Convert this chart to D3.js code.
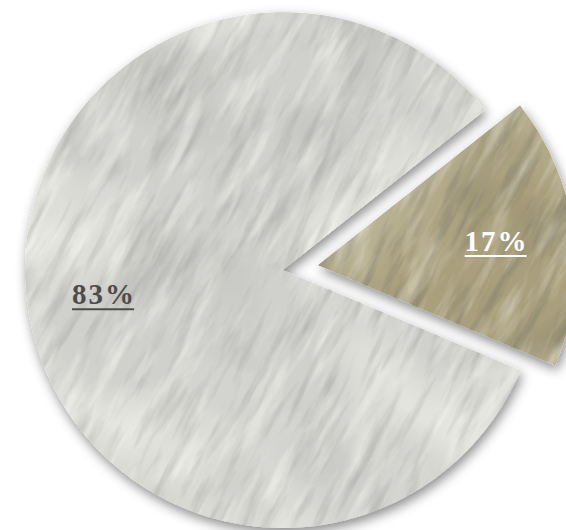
<!DOCTYPE html>
<html><head><meta charset="utf-8">
<script src="https://cdn.jsdelivr.net/npm/d3@7"></script>
<style>html,body{margin:0;padding:0;background:#fff;}svg{display:block;}</style>
</head><body>
<svg id="chart" width="566" height="530"></svg>
<script>
const categories = ["Silver", "Bronze"];
const values = [83, 17];
const labels = ["83%", "17%"];

const W = 566, H = 530;
const cx = 283, cy = 270, R = 258, explode = 35;
const startDeg = 112.85;

const svg = d3.select("#chart");
const defs = svg.append("defs");

const sh = defs.append("filter").attr("id", "shadow").attr("x", "-20%").attr("y", "-20%").attr("width", "140%").attr("height", "140%");
sh.append("feDropShadow").attr("dx", 2).attr("dy", 5).attr("stdDeviation", 6).attr("flood-color", "#000").attr("flood-opacity", 0.45);

function noise(id, freq, seed, oct, rgb, a, b) {
  const f = defs.append("filter").attr("id", id).attr("x", 0).attr("y", 0).attr("width", 1).attr("height", 1)
    .attr("filterUnits", "objectBoundingBox").attr("color-interpolation-filters", "sRGB");
  f.append("feTurbulence").attr("type", "fractalNoise").attr("baseFrequency", freq).attr("numOctaves", oct).attr("seed", seed);
  f.append("feColorMatrix").attr("type", "matrix")
    .attr("values", `0 0 0 0 ${rgb[0]}  0 0 0 0 ${rgb[1]}  0 0 0 0 ${rgb[2]}  ${a} 0 0 0 ${b}`);
}
noise("hiBig", "0.007 0.005", 7, 2, [1, 1, 0.97], 2.4, -1.1);
noise("hiStreak", "0.012 0.07", 3, 4, [1, 1, 0.97], 2.8, -1.35);
noise("loStreak", "0.014 0.09", 11, 4, [0.4, 0.4, 0.38], 2.6, -1.3);
noise("loBig", "0.009 0.009", 19, 2, [0.3, 0.3, 0.28], 2.2, -1.1);

const colors = { Silver: "#d0d0cd", Bronze: "#a99f7c" };
const textColors = { Silver: "#4d4c4a", Bronze: "#ffffff" };
const texOpacity = {
  Silver: [0.75, 0.18, 0.45, 0.22],
  Bronze: [0.4, 0.5, 0.35, 0.35]
};
const texFilters = ["hiBig", "loBig", "hiStreak", "loStreak"];

const pie = d3.pie().sort(null).value(d => d)
  .startAngle(startDeg * Math.PI / 180)
  .endAngle(startDeg * Math.PI / 180 + 2 * Math.PI);
const arcs = pie(values);
const arc = d3.arc().innerRadius(0).outerRadius(R);
const labelArc = d3.arc().innerRadius(R * 0.7).outerRadius(R * 0.7);

const root = svg.append("g").attr("transform", `translate(${cx},${cy})`);

arcs.forEach((a, i) => {
  const mid = (a.startAngle + a.endAngle) / 2;
  const off = i === 1 ? explode : 0;
  const dx = Math.sin(mid) * off, dy = -Math.cos(mid) * off;
  const cat = categories[i];
  defs.append("clipPath").attr("id", "clip" + i).append("path").attr("d", arc(a));
  const g = root.append("g").attr("transform", `translate(${dx},${dy})`);
  const sg = g.append("g").attr("filter", "url(#shadow)");
  const cg = sg.append("g").attr("clip-path", `url(#clip${i})`);
  cg.append("path").attr("d", arc(a)).attr("fill", colors[cat]);
  const tex = cg.append("g").attr("transform", "rotate(-62)");
  texFilters.forEach((fid, k) => {
    tex.append("rect").attr("x", -R * 1.5).attr("y", -R * 1.5).attr("width", R * 3).attr("height", R * 3)
      .attr("filter", `url(#${fid})`).attr("opacity", texOpacity[cat][k]);
  });

  const [lx, ly] = labelArc.centroid(a);
  const t = g.append("text").attr("x", lx).attr("y", ly + 10)
    .attr("text-anchor", "middle")
    .attr("font-family", "'Liberation Serif', 'Times New Roman', serif")
    .attr("font-weight", "bold").attr("font-size", 29).attr("letter-spacing", 2)
    .attr("fill", textColors[cat]).text(labels[i]);
  const bb = t.node().getBBox();
  g.append("line").attr("x1", bb.x).attr("x2", bb.x + bb.width - 2)
    .attr("y1", ly + 15).attr("y2", ly + 15)
    .attr("stroke", textColors[cat]).attr("stroke-width", 2);
});
</script>
</body></html>
